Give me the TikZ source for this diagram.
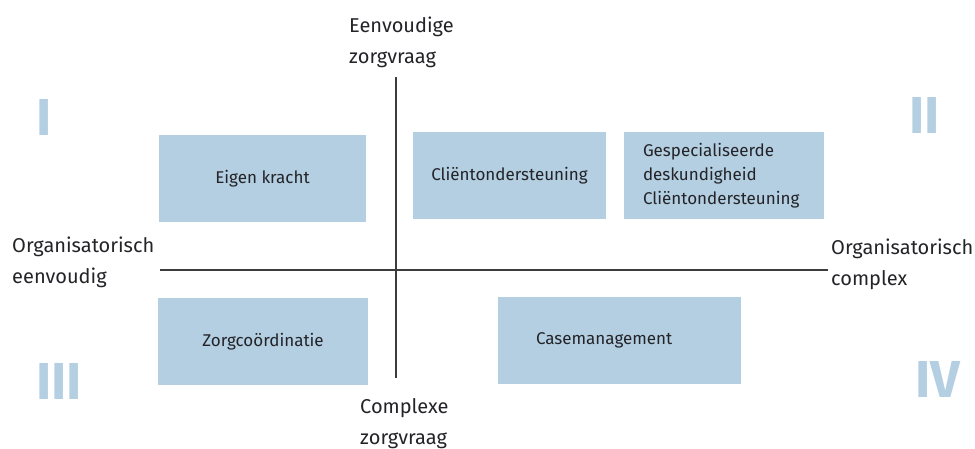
\documentclass[tikz,border=0pt]{standalone}
\usepackage{fontspec}
\setmainfont{Fira Sans}
\usetikzlibrary{positioning}
\definecolor{quadblue}{RGB}{179,207,225}
\definecolor{axisgray}{RGB}{60,60,60}
\definecolor{labeltext}{RGB}{35,35,40}

\begin{document}
\begin{tikzpicture}[x=1pt,y=-1pt,
    box/.style={fill=quadblue, inner sep=0pt, minimum height=87pt, text=labeltext, font=\fontsize{17}{24}\selectfont},
    axlabel/.style={anchor=base west, align=left, inner sep=0pt, text=labeltext, font=\fontsize{20}{31}\selectfont},
    numeral/.style={anchor=base west, inner sep=0pt, text=quadblue, font=\fontsize{52}{52}\selectfont\bfseries}]
  \useasboundingbox (0,0) rectangle (975,448);

  % Axes
  \coordinate (hleft) at (160,270);
  \coordinate (hright) at (828,270);
  \coordinate (vtop) at (396,77);
  \coordinate (vbottom) at (396,378);
  \draw[axisgray, line width=1.4pt] (hleft) -- (hright);
  \draw[axisgray, line width=1.4pt] (vtop) -- (vbottom);

  % Axis labels (anchored at the baseline of the last line)
  \node[axlabel] (top) at (349,63) {Eenvoudige\\zorgvraag};
  \node[axlabel] (bottom) at (360,444) {Complexe\\zorgvraag};
  \node[axlabel] (left) at (12,283) {Organisatorisch\\eenvoudig};
  \node[axlabel] (right) at (831,285) {Organisatorisch\\complex};

  % Quadrant numbers
  \node[numeral] (q1) at (36,135) {I};
  \node[numeral] (q2) at (909,133) {II};
  \node[numeral] (q3) at (36,399) {III};
  \node[numeral] (q4) at (915,397) {IV};

  % Boxes
  \node[box, minimum width=207pt] (eigen) at (262.5,178.5) {Eigen kracht};
  \node[box, minimum width=193pt] (client) at (509.5,175.5) {Cliëntondersteuning};
  \node[box, minimum width=200pt, text width=162pt, inner xsep=19pt, align=left] (special) at (724,175.5) {Gespecialiseerde\\deskundigheid\\Cliëntondersteuning};
  \node[box, minimum width=210pt] (coord) at (263,341.5) {Zorgcoördinatie};
  \node[box, text width=167pt, inner xsep=38pt, align=left] (case) at (619.5,340.5) {Casemanagement};
\end{tikzpicture}
\end{document}
